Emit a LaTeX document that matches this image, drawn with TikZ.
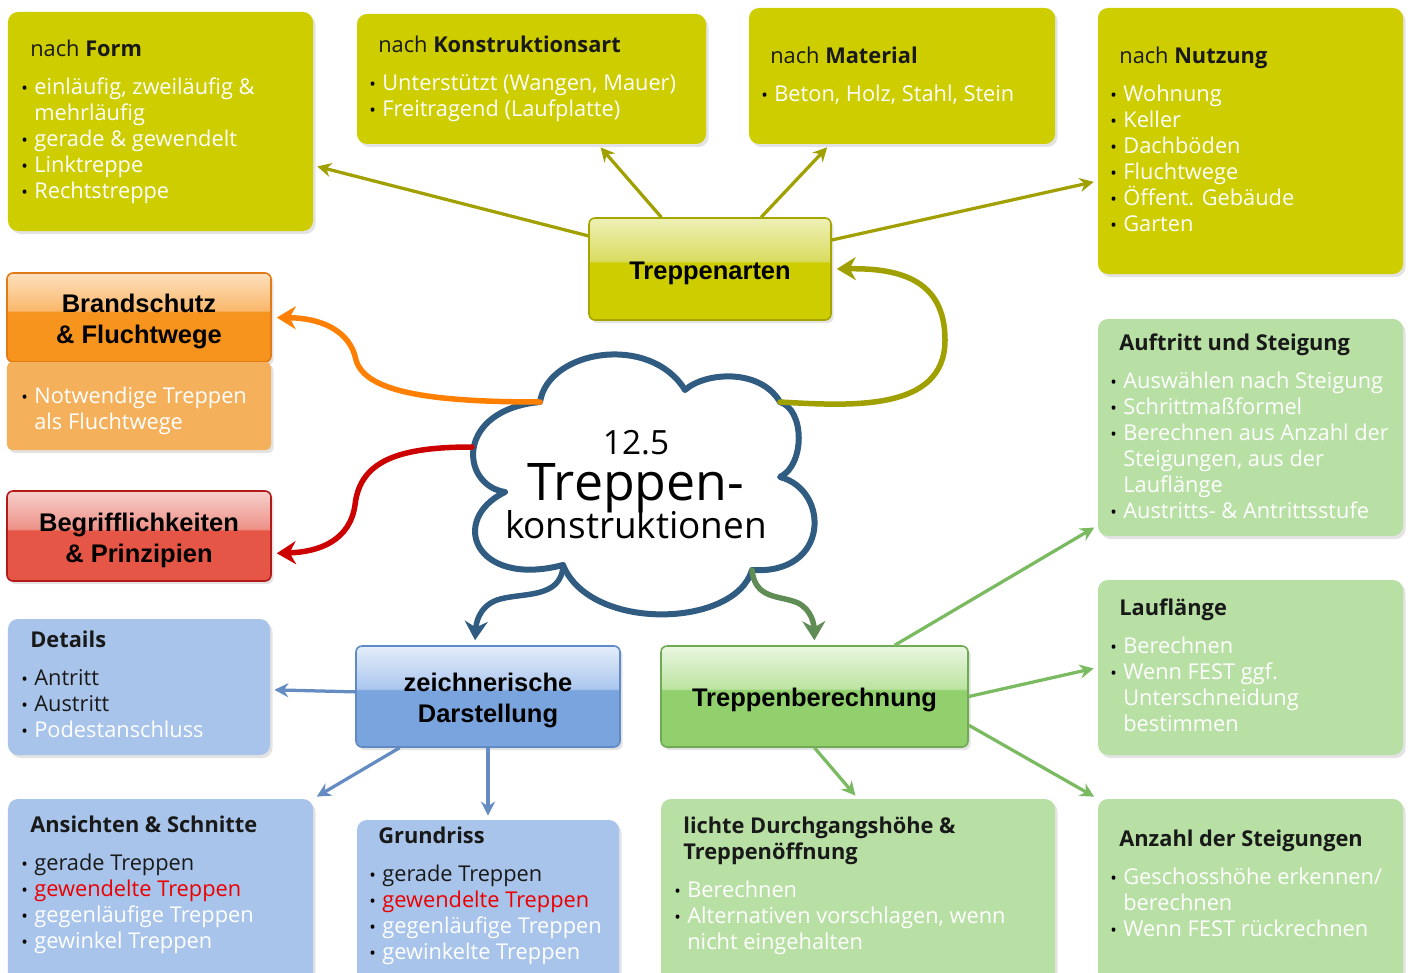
\documentclass[tikz,border=0pt]{standalone}
\usepackage{fontspec}
\setmainfont{Open Sans}
\newfontfamily\hdfont{Liberation Sans}
\usetikzlibrary{arrows.meta,calc,shadows,positioning}

% colours
\definecolor{Ybase}{RGB}{205,205,0}
\definecolor{Ytop}{RGB}{238,240,182}
\definecolor{Ymid}{RGB}{218,220,96}
\definecolor{Ydk}{RGB}{165,165,0}
\definecolor{Yarr}{RGB}{160,160,0}
\definecolor{Obase}{RGB}{247,148,30}
\definecolor{Otop}{RGB}{253,224,190}
\definecolor{Omid}{RGB}{250,184,108}
\definecolor{Odk}{RGB}{226,122,22}
\definecolor{Obody}{RGB}{244,176,90}
\definecolor{Oarr}{RGB}{255,128,0}
\definecolor{Rbase}{RGB}{230,86,70}
\definecolor{Rtop}{RGB}{246,208,204}
\definecolor{Rmid}{RGB}{238,146,136}
\definecolor{Rdk}{RGB}{178,26,26}
\definecolor{Rarr}{RGB}{205,0,0}
\definecolor{Bbase}{RGB}{122,164,222}
\definecolor{Btop}{RGB}{228,237,250}
\definecolor{Bmid}{RGB}{172,199,238}
\definecolor{Bdk}{RGB}{96,138,196}
\definecolor{Blight}{RGB}{168,196,234}
\definecolor{Barr}{RGB}{100,140,195}
\definecolor{Bcloud}{RGB}{48,92,130}
\definecolor{Gbase}{RGB}{146,208,110}
\definecolor{Gtop}{RGB}{234,246,224}
\definecolor{Gmid}{RGB}{188,228,162}
\definecolor{Gdk}{RGB}{112,170,84}
\definecolor{Glight}{RGB}{184,224,165}
\definecolor{Garr}{RGB}{122,186,96}
\definecolor{Gcloud}{RGB}{96,140,86}
\definecolor{txtred}{RGB}{235,0,0}

\pgfdeclareverticalshading{glossyY}{100bp}{color(0bp)=(Ybase); color(53bp)=(Ybase); color(54bp)=(Ymid); color(75bp)=(Ytop); color(100bp)=(Ytop)}
\pgfdeclareverticalshading{glossyO}{100bp}{color(0bp)=(Obase); color(53bp)=(Obase); color(54bp)=(Omid); color(75bp)=(Otop); color(100bp)=(Otop)}
\pgfdeclareverticalshading{glossyR}{100bp}{color(0bp)=(Rbase); color(53bp)=(Rbase); color(54bp)=(Rmid); color(75bp)=(Rtop); color(100bp)=(Rtop)}
\pgfdeclareverticalshading{glossyB}{100bp}{color(0bp)=(Bbase); color(53bp)=(Bbase); color(54bp)=(Bmid); color(75bp)=(Btop); color(100bp)=(Btop)}
\pgfdeclareverticalshading{glossyG}{100bp}{color(0bp)=(Gbase); color(53bp)=(Gbase); color(54bp)=(Gmid); color(75bp)=(Gtop); color(100bp)=(Gtop)}

\newcommand\bodyfont{\fontsize{12.4}{14.8}\selectfont}
\newcommand\bl{\makebox[2.6mm][l]{\textcolor{black}{\scalebox{.8}{\textbullet}}}}
\newcommand\cn{\hspace*{2.6mm}}
\newcommand\wt[1]{\textcolor{white}{#1}}
\newcommand\rt[1]{\textcolor{txtred}{#1}}
\newcommand\hd{\hspace*{1.8mm}}
\newcommand\hs{\rule{0pt}{15pt}}

\tikzset{
  lbox/.style={fill=#1, inner sep=0pt, rounded corners=2mm,
    drop shadow={opacity=.22, shadow xshift=.5mm, shadow yshift=-.6mm}},
  hbox/.style={shade, shading=glossy#1, draw=#1dk, line width=.9pt, inner sep=0pt,
    rounded corners=1.2mm, align=center, font=\hdfont\bfseries\fontsize{14.5}{17.6}\selectfont,
    drop shadow={opacity=.22, shadow xshift=.5mm, shadow yshift=-.6mm}},
  txt/.style={anchor=north west, inner sep=0pt, align=left, font=\bodyfont, text=black!90},
  tarr/.style={draw=#1, line width=.65mm, -{Stealth[length=2.8mm,width=2.8mm]}, shorten >=.8mm},
  carr/.style={draw=#1, line width=1.1mm, line cap=round, -{Stealth[length=3.8mm,width=4.6mm]}, shorten >=1mm},
}

\begin{document}
\begin{tikzpicture}[x=0.2mm,y=-0.2mm]
\useasboundingbox (0,0) rectangle (1411,973);

% Treppenarten
\node[lbox=Ybase, minimum width=61mm, minimum height=43.8mm] (form) at (160.5,121.5) {};
\node[lbox=Ybase, minimum width=69.8mm, minimum height=26mm] (konstr) at (531.5,79) {};
\node[lbox=Ybase, minimum width=61.2mm, minimum height=27.2mm] (material) at (902,76) {};
\node[lbox=Ybase, minimum width=61mm, minimum height=53.2mm] (nutzung) at (1250.5,141) {};
\node[hbox=Y, minimum width=48.4mm, minimum height=20.4mm] (arten) at (710,269) {\hs Treppenarten};

% Brandschutz, Begriffe
\node[hbox=O, minimum width=52.8mm, minimum height=17.8mm] (brand) at (139,317.5) {\hs Brandschutz\\\& Fluchtwege};
\node[lbox=Obody, rounded corners=1mm, minimum width=52.8mm, minimum height=17.6mm] (brandbody) at (139,406) {};
\node[hbox=R, minimum width=52.8mm, minimum height=18mm] (begriff) at (139,536) {\hs Begrifflichkeiten\\\& Prinzipien};

% zeichnerische Darstellung
\node[lbox=Blight, minimum width=52.4mm, minimum height=27.2mm] (details) at (139,687) {};
\node[hbox=B, minimum width=52.8mm, minimum height=20.2mm] (zeichn) at (488,696.5) {\hs zeichnerische\\Darstellung};
\node[lbox=Blight, minimum width=61mm, minimum height=37.2mm] (ansicht) at (160.5,892) {};
\node[lbox=Blight, minimum width=52.4mm, minimum height=33mm] (grundriss) at (488,902.5) {};

% Treppenberechnung
\node[hbox=G, minimum width=61.4mm, minimum height=20.2mm] (berech) at (814.5,696.5) {\hs Treppenberechnung};
\node[lbox=Glight, minimum width=78.8mm, minimum height=37.2mm] (lichte) at (858,892) {};
\node[lbox=Glight, minimum width=61mm, minimum height=43.4mm] (auftritt) at (1250.5,427.5) {};
\node[lbox=Glight, minimum width=61mm, minimum height=35mm] (lauf) at (1250.5,667.5) {};
\node[lbox=Glight, minimum width=61mm, minimum height=37.2mm] (anzahl) at (1250.5,892) {};

% texts
\node[txt] (formtxt) at (21,40) {\hd nach \textbf{Form}\\[2.4mm]
  \bl\wt{einläufig, zweiläufig \&}\\ \cn\wt{mehrläufig}\\ \bl\wt{gerade \& gewendelt}\\
  \bl\wt{Linktreppe}\\ \bl\wt{Rechtstreppe}};
\node[txt] (konstrtxt) at (369,36) {\hd nach \textbf{Konstruktionsart}\\[2.4mm]
  \bl\wt{Unterstützt (Wangen, Mauer)}\\ \bl\wt{Freitragend (Laufplatte)}};
\node[txt] (materialtxt) at (761,47) {\hd nach \textbf{Material}\\[2.4mm]
  \bl\wt{Beton, Holz, Stahl, Stein}};
\node[txt] (nutzungtxt) at (1110,47) {\hd nach \textbf{Nutzung}\\[2.4mm]
  \bl\wt{Wohnung}\\ \bl\wt{Keller}\\ \bl\wt{Dachböden}\\ \bl\wt{Fluchtwege}\\
  \bl\wt{Öffent. Gebäude}\\ \bl\wt{Garten}};
\node[txt] (brandtxt) at (21,387) {\bl\wt{Notwendige Treppen}\\ \cn\wt{als Fluchtwege}};
\node[txt] (detailstxt) at (21,631) {\hd\textbf{Details}\\[2.4mm]
  \bl Antritt\\ \bl Austritt\\ \bl\wt{Podestanschluss}};
\node[txt] (ansichttxt) at (21,816) {\hd\textbf{Ansichten \& Schnitte}\\[2.4mm]
  \bl gerade Treppen\\ \bl\rt{gewendelte Treppen}\\ \bl\wt{gegenläufige Treppen}\\
  \bl\wt{gewinkel Treppen}};
\node[txt] (grundrisstxt) at (369,827) {\hd\textbf{Grundriss}\\[2.4mm]
  \bl gerade Treppen\\ \bl\rt{gewendelte Treppen}\\ \bl\wt{gegenläufige Treppen}\\
  \bl\wt{gewinkelte Treppen}};
\node[txt] (lichtetxt) at (674,817) {\hd\textbf{lichte Durchgangshöhe \&}\\ \hd\textbf{Treppenöffnung}\\[2.4mm]
  \bl\wt{Berechnen}\\ \bl\wt{Alternativen vorschlagen, wenn}\\ \cn\wt{nicht eingehalten}};
\node[txt] (auftritttxt) at (1110,333) {\hd\textbf{Auftritt und Steigung}\\[2.4mm]
  \bl\wt{Auswählen nach Steigung}\\ \bl\wt{Schrittmaßformel}\\
  \bl\wt{Berechnen aus Anzahl der}\\ \cn\wt{Steigungen, aus der}\\ \cn\wt{Lauflänge}\\
  \bl\wt{Austritts- \& Antrittsstufe}};
\node[txt] (lauftxt) at (1110,598) {\hd\textbf{Lauflänge}\\[2.4mm]
  \bl\wt{Berechnen}\\ \bl\wt{Wenn FEST ggf.}\\ \cn\wt{Unterschneidung}\\ \cn\wt{bestimmen}};
\node[txt] (anzahltxt) at (1110,830) {\hd\textbf{Anzahl der Steigungen}\\[2.4mm]
  \bl\wt{Geschosshöhe erkennen/}\\ \cn\wt{berechnen}\\ \bl\wt{Wenn FEST rückrechnen}};

% cloud
\coordinate (kTL) at (540,402);
\coordinate (kT) at (685,390);
\coordinate (kTR) at (780,402);
\coordinate (kR) at (780,477);
\coordinate (kBR) at (752,570);
\coordinate (kBL) at (563,565);
\coordinate (kL) at (505,492);
\coordinate (kW) at (472,447);
\draw[Bcloud, fill=white, line width=1.2mm, line join=round]
  (kTL) .. controls (548,350) and (650,333) .. (kT)
  .. controls (705,372) and (760,368) .. (kTR)
  .. controls (805,410) and (805,465) .. (kR)
  .. controls (830,490) and (830,575) .. (kBR)
  .. controls (735,628) and (590,632) .. (kBL)
  .. controls (475,588) and (448,520) .. (kL)
  .. controls (460,485) and (455,410) .. (kTL) -- cycle;
\node[anchor=base, font=\fontsize{19}{19}\selectfont] (cnum) at (636,454) {12.5};
\node[anchor=base, font=\fontsize{29.5}{29.5}\selectfont] (cmain) at (636,500) {Treppen-};
\node[anchor=base, font=\fontsize{21}{21}\selectfont] (csub) at (636,538) {konstruktionen};

% curved arrows from the cloud
\draw[carr=Yarr] (kTR) .. controls (850,406) and (945,412) .. (945,340)
  .. controls (945,280) and (900,268) .. (arten.east);
\draw[carr=Oarr] (kTL) .. controls (430,402) and (365,392) .. (356,360)
  .. controls (350,330) and (320,318) .. (brand.east);
\draw[carr=Rarr] (kW) .. controls (400,447) and (360,460) .. (355,505)
  .. controls (350,540) and (320,552) .. ($(begriff.north east)!0.69!(begriff.south east)$);
\draw[carr=Bcloud] (kBL) .. controls (562,600) and (520,592) .. (497,600)
  .. controls (478,607) and (476,625) .. ($(zeichn.north west)!0.45!(zeichn.north east)$);
\draw[carr=Gcloud] (kBR) .. controls (755,600) and (780,595) .. (798,603)
  .. controls (812,610) and (814,625) .. (berech.north);

% straight arrows
\draw[tarr=Yarr] ($(arten.north west)!0.18!(arten.south west)$) -- ($(form.north east)!0.70!(form.south east)$);
\draw[tarr=Yarr] ($(arten.north west)!0.3!(arten.north east)$) -- ($(konstr.south west)!0.69!(konstr.south east)$);
\draw[tarr=Yarr] ($(arten.north west)!0.71!(arten.north east)$) -- ($(material.south west)!0.265!(material.south east)$);
\draw[tarr=Yarr] ($(arten.north east)!0.22!(arten.south east)$) -- ($(nutzung.north west)!0.65!(nutzung.south west)$);
\draw[tarr=Barr] ($(zeichn.north west)!0.455!(zeichn.south west)$) -- ($(details.north east)!0.52!(details.south east)$);
\draw[tarr=Barr] ($(zeichn.south west)!0.167!(zeichn.south east)$) -- (ansicht.north east);
\draw[tarr=Barr] (zeichn.south) -- (grundriss.north);
\draw[tarr=Garr] ($(berech.north west)!0.76!(berech.north east)$) -- ($(auftritt.north west)!0.95!(auftritt.south west)$);
\draw[tarr=Garr] (berech.east) -- (lauf.west);
\draw[tarr=Garr] (berech.south) -- (lichte.north);
\draw[tarr=Garr] ($(berech.north east)!0.78!(berech.south east)$) -- (anzahl.north west);
\end{tikzpicture}
\end{document}
